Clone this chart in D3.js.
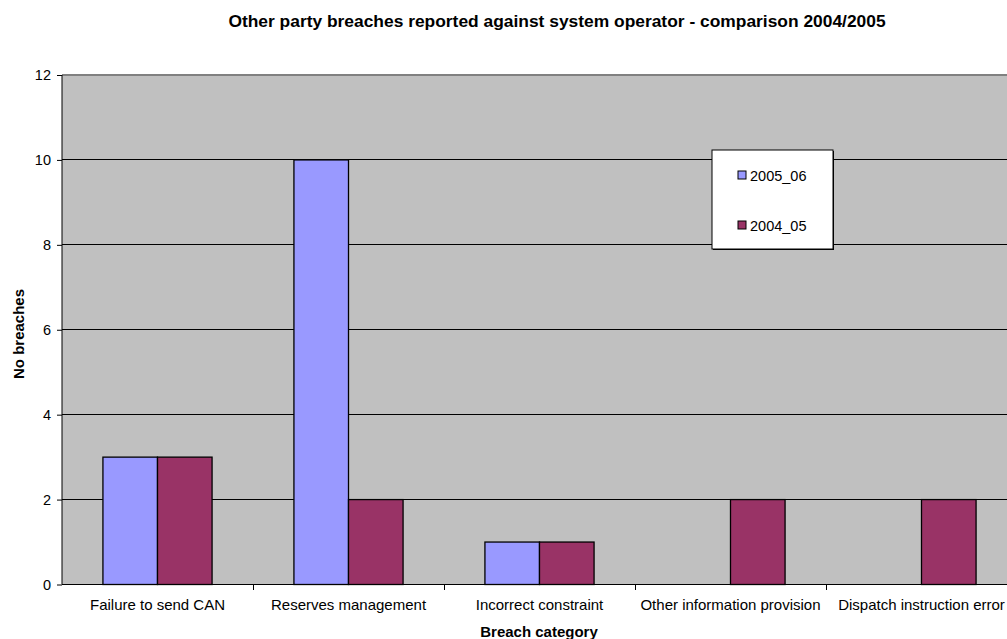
<!DOCTYPE html>
<html>
<head>
<meta charset="utf-8">
<script src="https://cdn.jsdelivr.net/npm/d3@7"></script>
<style>
  html, body { margin: 0; padding: 0; background: #fff; overflow: hidden; }
  svg { display: block; font-family: "Liberation Sans", Arial, sans-serif; }
</style>
</head>
<body>
<svg id="chart" width="1007" height="639"></svg>
<script>
// Breach categories and counts per reporting year
const categories = ["Failure to send CAN", "Reserves management", "Incorrect constraint", "Other information provision", "Dispatch instruction error"];
const seriesNames = ["2005_06", "2004_05"];
const values2005_06 = [3, 10, 1, 0, 0];
const values2004_05 = [3, 2, 1, 2, 2];
const yTicks = [0, 2, 4, 6, 8, 10, 12];
const colors = ["#9999FF", "#993366"];

const svg = d3.select("#chart");
const margin = { left: 62, top: 75, right: 1017, bottom: 584.5 };
const FONT = "Liberation Sans, Arial, sans-serif";

const x = d3.scaleBand().domain(categories).range([margin.left, margin.right]).paddingInner(0).paddingOuter(0);
const inner = d3.scaleBand().domain(seriesNames).range([0, x.bandwidth()]).paddingInner(0).paddingOuter(0.75);
const y = d3.scaleLinear().domain([0, 12]).range([margin.bottom, margin.top]);

// plot background
svg.append("rect")
  .attr("x", margin.left).attr("y", margin.top)
  .attr("width", margin.right - margin.left).attr("height", margin.bottom - margin.top)
  .attr("fill", "#C0C0C0");

// horizontal gridlines
svg.append("g").selectAll("line").data(yTicks.filter(d => d > 0)).join("line")
  .attr("x1", margin.left).attr("x2", margin.right)
  .attr("y1", d => y(d)).attr("y2", d => y(d))
  .attr("stroke", d => d === 12 ? "#808080" : "#000").attr("stroke-width", d => d === 12 ? 2 : 1)
  .attr("shape-rendering", "crispEdges");

// bars
const data = categories.map((c, i) => ({ cat: c, vals: [values2005_06[i], values2004_05[i]] }));
const groups = svg.append("g").selectAll("g").data(data).join("g")
  .attr("transform", d => `translate(${x(d.cat)},0)`);
groups.selectAll("rect").data(d => d.vals.map((v, j) => ({ v, s: seriesNames[j], j })).filter(e => e.v > 0)).join("rect")
  .attr("x", e => inner(e.s)).attr("width", inner.bandwidth())
  .attr("y", e => y(e.v)).attr("height", e => y(0) - y(e.v))
  .attr("fill", e => colors[e.j]).attr("stroke", "#000").attr("stroke-width", 1.3);

// y axis
const yAxis = d3.axisLeft(y).tickValues(yTicks).tickSize(5).tickPadding(6).tickFormat(d3.format("d"));
const gy = svg.append("g").attr("transform", `translate(${margin.left},0)`).call(yAxis);
gy.select(".domain").attr("stroke", "#000").attr("d", `M0,${margin.top}V${margin.bottom}`);
gy.selectAll(".tick line").attr("stroke", "#000");
gy.selectAll("text").attr("font-size", 14.5).attr("fill", "#000").attr("font-family", FONT);

// x axis
const xAxis = d3.axisBottom(x).tickSize(0).tickPadding(15);
const gx = svg.append("g").attr("transform", `translate(0,${margin.bottom})`).call(xAxis);
gx.select(".domain").attr("stroke", "#000").attr("d", `M${margin.left},0H${margin.right}`);
gx.selectAll("text").attr("font-size", 15).attr("fill", "#000").attr("font-family", FONT);
// category separator ticks
svg.append("g").selectAll("line").data(categories.slice(1)).join("line")
  .attr("x1", d => x(d)).attr("x2", d => x(d))
  .attr("y1", margin.bottom).attr("y2", margin.bottom + 5)
  .attr("stroke", "#000").attr("shape-rendering", "crispEdges");

// titles
svg.append("text").attr("x", 557).attr("y", 27).attr("text-anchor", "middle")
  .attr("font-size", 17.4).attr("font-weight", "bold").text("Other party breaches reported against system operator - comparison 2004/2005");
svg.append("text").attr("x", 539).attr("y", 637).attr("text-anchor", "middle")
  .attr("font-size", 15).attr("font-weight", "bold").text("Breach category");
svg.append("text").attr("transform", "translate(24,334) rotate(-90)").attr("text-anchor", "middle")
  .attr("font-size", 15).attr("font-weight", "bold").text("No breaches");

// legend
const legend = svg.append("g").attr("transform", "translate(712,150)");
legend.append("rect").attr("x", 1).attr("y", 1).attr("width", 121).attr("height", 99).attr("fill", "#000");
legend.append("rect").attr("width", 121).attr("height", 99).attr("fill", "#fff").attr("stroke", "#000").attr("stroke-width", 1);
const items = legend.selectAll("g").data(seriesNames).join("g")
  .attr("transform", (d, i) => `translate(26,${25 + i * 50})`);
items.append("rect").attr("x", 0).attr("y", -4).attr("width", 8).attr("height", 8)
  .attr("fill", (d, i) => colors[i]).attr("stroke", "#000").attr("stroke-width", 1);
items.append("text").attr("x", 12).attr("y", 5.5).attr("font-size", 14.5).text(d => d);
</script>
</body>
</html>
